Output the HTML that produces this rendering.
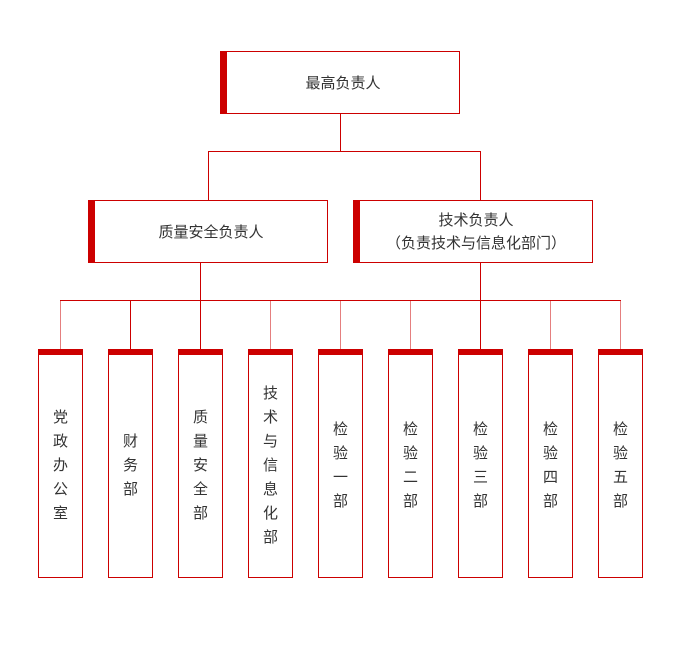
<!DOCTYPE html>
<html><head><meta charset="utf-8"><style>
body{margin:0;width:680px;height:650px;background:#fff;position:relative;font-family:"Liberation Sans","Noto Sans CJK SC",sans-serif;color:#333;overflow:hidden}
.b{position:absolute;box-sizing:border-box;border:1px solid #c00;background:#fff;display:flex;align-items:center;justify-content:center;text-align:center}
.l{position:absolute;background:#c00}
.v{position:absolute;box-sizing:border-box;border:1px solid #c00;border-top:6px solid #c00;width:45px;height:229px;top:349px;display:flex;align-items:center;justify-content:center;font-size:15px;line-height:24px;text-align:center}
</style></head><body>
<div class="l" style="left:340px;top:113px;width:1px;height:38px"></div>
<div class="l" style="left:208px;top:151px;width:273px;height:1px"></div>
<div class="l" style="left:208px;top:151px;width:1px;height:49px"></div>
<div class="l" style="left:480px;top:151px;width:1px;height:49px"></div>
<div class="l" style="left:200px;top:262px;width:1px;height:38px"></div>
<div class="l" style="left:480px;top:262px;width:1px;height:38px"></div>
<div class="l" style="left:60px;top:300px;width:561px;height:1px"></div>
<div class="l" style="left:60px;top:300px;width:1px;height:49px;opacity:.5"></div>
<div class="l" style="left:130px;top:300px;width:1px;height:49px"></div>
<div class="l" style="left:200px;top:300px;width:1px;height:49px"></div>
<div class="l" style="left:270px;top:300px;width:1px;height:49px;opacity:.5"></div>
<div class="l" style="left:340px;top:300px;width:1px;height:49px;opacity:.5"></div>
<div class="l" style="left:410px;top:300px;width:1px;height:49px;opacity:.5"></div>
<div class="l" style="left:480px;top:300px;width:1px;height:49px"></div>
<div class="l" style="left:550px;top:300px;width:1px;height:49px;opacity:.5"></div>
<div class="l" style="left:620px;top:300px;width:1px;height:49px;opacity:.5"></div>
<div class="b" style="left:220px;top:51px;width:240px;height:63px;border-left:7px solid #c00;font-size:15px">最高负责人</div>
<div class="b" style="left:88px;top:200px;width:240px;height:63px;border-left:7px solid #c00;font-size:15px">质量安全负责人</div>
<div class="b" style="left:353px;top:200px;width:240px;height:63px;border-left:7px solid #c00;font-size:15px;line-height:23px">技术负责人<br>（负责技术与信息化部门）</div>
<div class="v" style="left:38px">党<br>政<br>办<br>公<br>室</div>
<div class="v" style="left:108px">财<br>务<br>部</div>
<div class="v" style="left:178px">质<br>量<br>安<br>全<br>部</div>
<div class="v" style="left:248px">技<br>术<br>与<br>信<br>息<br>化<br>部</div>
<div class="v" style="left:318px">检<br>验<br>一<br>部</div>
<div class="v" style="left:388px">检<br>验<br>二<br>部</div>
<div class="v" style="left:458px">检<br>验<br>三<br>部</div>
<div class="v" style="left:528px">检<br>验<br>四<br>部</div>
<div class="v" style="left:598px">检<br>验<br>五<br>部</div>
</body></html>
